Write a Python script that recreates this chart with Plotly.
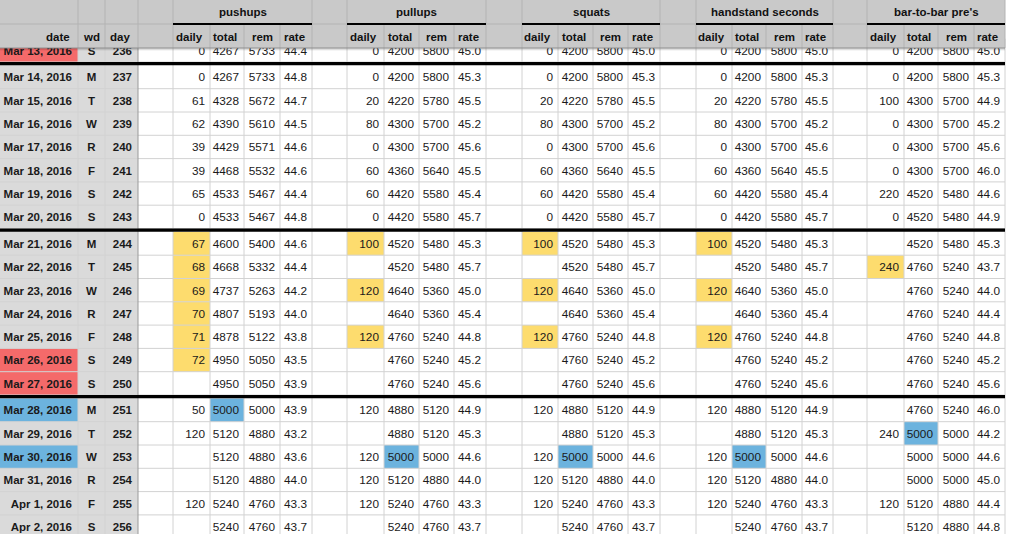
import plotly.graph_objects as go
from datetime import datetime

# Sheet data
dates = ["Mar 13, 2016", "Mar 14, 2016", "Mar 15, 2016", "Mar 16, 2016", "Mar 17, 2016",
         "Mar 18, 2016", "Mar 19, 2016", "Mar 20, 2016", "Mar 21, 2016", "Mar 22, 2016",
         "Mar 23, 2016", "Mar 24, 2016", "Mar 25, 2016", "Mar 26, 2016", "Mar 27, 2016",
         "Mar 28, 2016", "Mar 29, 2016", "Mar 30, 2016", "Mar 31, 2016", "Apr 1, 2016",
         "Apr 2, 2016"]
weekdays = ["S", "M", "T", "W", "R", "F", "S", "S", "M", "T", "W", "R", "F", "S", "S",
            "M", "T", "W", "R", "F", "S"]
day_numbers = [236, 237, 238, 239, 240, 241, 242, 243, 244, 245, 246, 247, 248, 249, 250,
               251, 252, 253, 254, 255, 256]
date_marks = ["red", "", "", "", "", "", "", "", "", "", "", "", "", "red", "red",
              "blue", "", "blue", "", "", ""]

pushups_daily = [0, 0, 61, 62, 39, 39, 65, 0, 67, 68, 69, 70, 71, 72, None, 50, 120, None, None, 120, None]
pushups_total = [4267, 4267, 4328, 4390, 4429, 4468, 4533, 4533, 4600, 4668, 4737, 4807, 4878, 4950, 4950,
                 5000, 5120, 5120, 5120, 5240, 5240]
pushups_rem = [5733, 5733, 5672, 5610, 5571, 5532, 5467, 5467, 5400, 5332, 5263, 5193, 5122, 5050, 5050,
               5000, 4880, 4880, 4880, 4760, 4760]
pushups_rate = [44.4, 44.8, 44.7, 44.5, 44.6, 44.6, 44.4, 44.8, 44.6, 44.4, 44.2, 44.0, 43.8, 43.5, 43.9,
                43.9, 43.2, 43.6, 44.0, 43.3, 43.7]

pullups_daily = [0, 0, 20, 80, 0, 60, 60, 0, 100, None, 120, None, 120, None, None, 120, None, 120, 120, 120, None]
pullups_total = [4200, 4200, 4220, 4300, 4300, 4360, 4420, 4420, 4520, 4520, 4640, 4640, 4760, 4760, 4760,
                 4880, 4880, 5000, 5120, 5240, 5240]
pullups_rem = [5800, 5800, 5780, 5700, 5700, 5640, 5580, 5580, 5480, 5480, 5360, 5360, 5240, 5240, 5240,
               5120, 5120, 5000, 4880, 4760, 4760]
pullups_rate = [45.0, 45.3, 45.5, 45.2, 45.6, 45.5, 45.4, 45.7, 45.3, 45.7, 45.0, 45.4, 44.8, 45.2, 45.6,
                44.9, 45.3, 44.6, 44.0, 43.3, 43.7]

squats_daily = [0, 0, 20, 80, 0, 60, 60, 0, 100, None, 120, None, 120, None, None, 120, None, 120, 120, 120, None]
squats_total = [4200, 4200, 4220, 4300, 4300, 4360, 4420, 4420, 4520, 4520, 4640, 4640, 4760, 4760, 4760,
                4880, 4880, 5000, 5120, 5240, 5240]
squats_rem = [5800, 5800, 5780, 5700, 5700, 5640, 5580, 5580, 5480, 5480, 5360, 5360, 5240, 5240, 5240,
              5120, 5120, 5000, 4880, 4760, 4760]
squats_rate = [45.0, 45.3, 45.5, 45.2, 45.6, 45.5, 45.4, 45.7, 45.3, 45.7, 45.0, 45.4, 44.8, 45.2, 45.6,
               44.9, 45.3, 44.6, 44.0, 43.3, 43.7]

handstand_daily = [0, 0, 20, 80, 0, 60, 60, 0, 100, None, 120, None, 120, None, None, 120, None, 120, 120, 120, None]
handstand_total = [4200, 4200, 4220, 4300, 4300, 4360, 4420, 4420, 4520, 4520, 4640, 4640, 4760, 4760, 4760,
                   4880, 4880, 5000, 5120, 5240, 5240]
handstand_rem = [5800, 5800, 5780, 5700, 5700, 5640, 5580, 5580, 5480, 5480, 5360, 5360, 5240, 5240, 5240,
                 5120, 5120, 5000, 4880, 4760, 4760]
handstand_rate = [45.0, 45.3, 45.5, 45.2, 45.6, 45.5, 45.4, 45.7, 45.3, 45.7, 45.0, 45.4, 44.8, 45.2, 45.6,
                  44.9, 45.3, 44.6, 44.0, 43.3, 43.7]

bar_daily = [0, 0, 100, 0, 0, 0, 220, 0, None, 240, None, None, None, None, None, None, 240, None, None, 120, None]
bar_total = [4200, 4200, 4300, 4300, 4300, 4300, 4520, 4520, 4520, 4760, 4760, 4760, 4760, 4760, 4760,
             4760, 5000, 5000, 5000, 5120, 5120]
bar_rem = [5800, 5800, 5700, 5700, 5700, 5700, 5480, 5480, 5480, 5240, 5240, 5240, 5240, 5240, 5240,
           5240, 5000, 5000, 5000, 4880, 4880]
bar_rate = [45.0, 45.3, 44.9, 45.2, 45.6, 46.0, 44.6, 44.9, 45.3, 43.7, 44.0, 44.4, 44.8, 45.2, 45.6,
            46.0, 44.2, 44.6, 45.0, 44.4, 44.8]

exercise_names = ["pushups", "pullups", "squats", "handstand seconds", "bar-to-bar pre's"]
sub_labels = ["daily", "total", "rem", "rate"]
challenge_week = ["Mar 21, 2016", "Mar 22, 2016", "Mar 23, 2016", "Mar 24, 2016",
                  "Mar 25, 2016", "Mar 26, 2016", "Mar 27, 2016"]
goal = 5000

exercises = [
    (pushups_daily, pushups_total, pushups_rem, pushups_rate),
    (pullups_daily, pullups_total, pullups_rem, pullups_rate),
    (squats_daily, squats_total, squats_rem, squats_rate),
    (handstand_daily, handstand_total, handstand_rem, handstand_rate),
    (bar_daily, bar_total, bar_rem, bar_rate),
]

# sheet geometry
FONT = "Liberation Sans, Arial, sans-serif"
RED, BLUE, YELLOW = "#f46a6a", "#6cb3de", "#fddc6e"
GRAY_CELL, HEADER = "#dadada", "#c9c9c9"
GRID = "#d2d2d2"
col_w = [78, 27, 33, 35, 37, 34, 36, 32, 35, 37, 35, 35, 32, 36, 36, 35, 35, 32,
         36, 36, 34, 36, 31, 34, 37, 34, 36, 31]
bounds = [0]
for w in col_w:
    bounds.append(bounds[-1] + w)
right_edge = bounds[-1]
pad = 5
row_h = 23.3
head_h = 24

tops, seps = [], []
y = 38.7
for d in dates:
    tops.append(y)
    y += row_h
    if datetime.strptime(d, "%b %d, %Y").weekday() == 6:
        seps.append(y + 1.7)
        y += 3.4
centers = [t + row_h / 2 + 1.5 for t in tops]
body_top = tops[0]

shapes = []


def rect(x0, x1, y0, y1, color, layer="below"):
    shapes.append(dict(type="rect", x0=x0, x1=x1, y0=y0, y1=y1, fillcolor=color,
                       line=dict(width=0), layer=layer))


def line(x0, x1, y0, y1, color, width=1, layer="below"):
    shapes.append(dict(type="line", x0=x0, x1=x1, y0=y0, y1=y1,
                       line=dict(color=color, width=width), layer=layer))


# frozen columns
rect(0, bounds[3], body_top, 540, GRAY_CELL)
for i, m in enumerate(date_marks):
    if m:
        rect(0, bounds[1], tops[i], tops[i] + row_h, RED if m == "red" else BLUE)

# highlighted cells
for g, (daily, total, rem, rate) in enumerate(exercises):
    c0 = 4 + 5 * g
    for i, d in enumerate(dates):
        if d in challenge_week and daily[i] is not None:
            rect(bounds[c0], bounds[c0 + 1], tops[i], tops[i] + row_h, YELLOW)
    first = next(i for i, t in enumerate(total) if t >= goal)
    rect(bounds[c0 + 1], bounds[c0 + 2], tops[first], tops[first] + row_h, BLUE)

# grid
for t in tops:
    line(0, right_edge, t + row_h, t + row_h, GRID)
for k, b in enumerate(bounds[1:], start=1):
    line(b, b, body_top, 540, "#9a9a9a" if k == 3 else GRID)
for s in seps:
    line(0, right_edge, s, s, "black", 3.2)

# header block (drawn over the first, half-hidden row)
rect(0, right_edge, 0, 2 * head_h, HEADER, "above")
hl = "#b3b3b3"
for b in bounds[1:]:
    line(b, b, head_h, 2 * head_h, hl, layer="above")
for b in bounds[1:5]:
    line(b, b, 0, head_h, hl, layer="above")
line(0, bounds[4], head_h, head_h, hl, layer="above")
for g in range(5):
    c0 = 4 + 5 * g
    line(bounds[c0 + 4], bounds[c0 + 4], 0, head_h, hl, layer="above")
    if g < 4:
        line(bounds[c0 + 5], bounds[c0 + 5], 0, head_h, hl, layer="above")
        line(bounds[c0 + 4], bounds[c0 + 5], head_h, head_h, hl, layer="above")
    line(bounds[c0], bounds[c0 + 4], head_h, head_h, "black", 2, layer="above")
line(0, right_edge, 2 * head_h, 2 * head_h, "#8f8f8f", layer="above")
line(0, right_edge, 2 * head_h + 1, 2 * head_h + 1, "rgba(0,0,0,0.18)", layer="above")
line(0, right_edge, 2 * head_h + 2, 2 * head_h + 2, "rgba(0,0,0,0.08)", layer="above")

annotations = []


def head_text(text, x, y, anchor):
    annotations.append(dict(text="<b>" + text + "</b>", x=x, y=y, xref="x", yref="y",
                            xanchor=anchor, yanchor="middle", showarrow=False,
                            font=dict(family=FONT, size=11.5, color="#111111")))


head_text("date", bounds[1] - 6, 37, "right")
head_text("wd", (bounds[1] + bounds[2]) / 2, 37, "center")
head_text("day", bounds[3] - 6, 37, "right")
for g, name in enumerate(exercise_names):
    c0 = 4 + 5 * g
    head_text(name, (bounds[c0] + bounds[c0 + 4]) / 2, 12, "center")
    for k, lab in enumerate(sub_labels):
        head_text(lab, bounds[c0 + k + 1] - pad, 37, "right")

fig = go.Figure()


def text_column(values, x, position, bold=False):
    txt = ["" if v is None else (f"<b>{v}</b>" if bold else str(v)) for v in values]
    fig.add_trace(go.Scatter(x=[x] * len(values), y=centers, mode="text", text=txt,
                             textposition=position, hoverinfo="skip", showlegend=False,
                             textfont=dict(family=FONT, size=11.5 if bold else 11.8,
                                           color="#1a1a1a")))


text_column(dates, bounds[1] - 6, "middle left", bold=True)
text_column(weekdays, (bounds[1] + bounds[2]) / 2, "middle center", bold=True)
text_column(day_numbers, bounds[3] - 6, "middle left", bold=True)
for g, (daily, total, rem, rate) in enumerate(exercises):
    c0 = 4 + 5 * g
    text_column(daily, bounds[c0 + 1] - pad, "middle left")
    text_column(total, bounds[c0 + 2] - pad, "middle left")
    text_column(rem, bounds[c0 + 3] - pad, "middle left")
    text_column([f"{v:.1f}" for v in rate], bounds[c0 + 4] - pad, "middle left")

fig.update_layout(
    width=1024, height=534,
    margin=dict(l=0, r=0, t=0, b=0),
    paper_bgcolor="white", plot_bgcolor="white",
    xaxis=dict(range=[0, 1024], visible=False, fixedrange=True),
    yaxis=dict(range=[534, 0], visible=False, fixedrange=True),
    shapes=shapes, annotations=annotations,
)
# the page's default 8px body margin would push the sheet off its grid
fig.write_html("out.html", config={"displayModeBar": False},
               post_script="document.body.style.margin='0';")
